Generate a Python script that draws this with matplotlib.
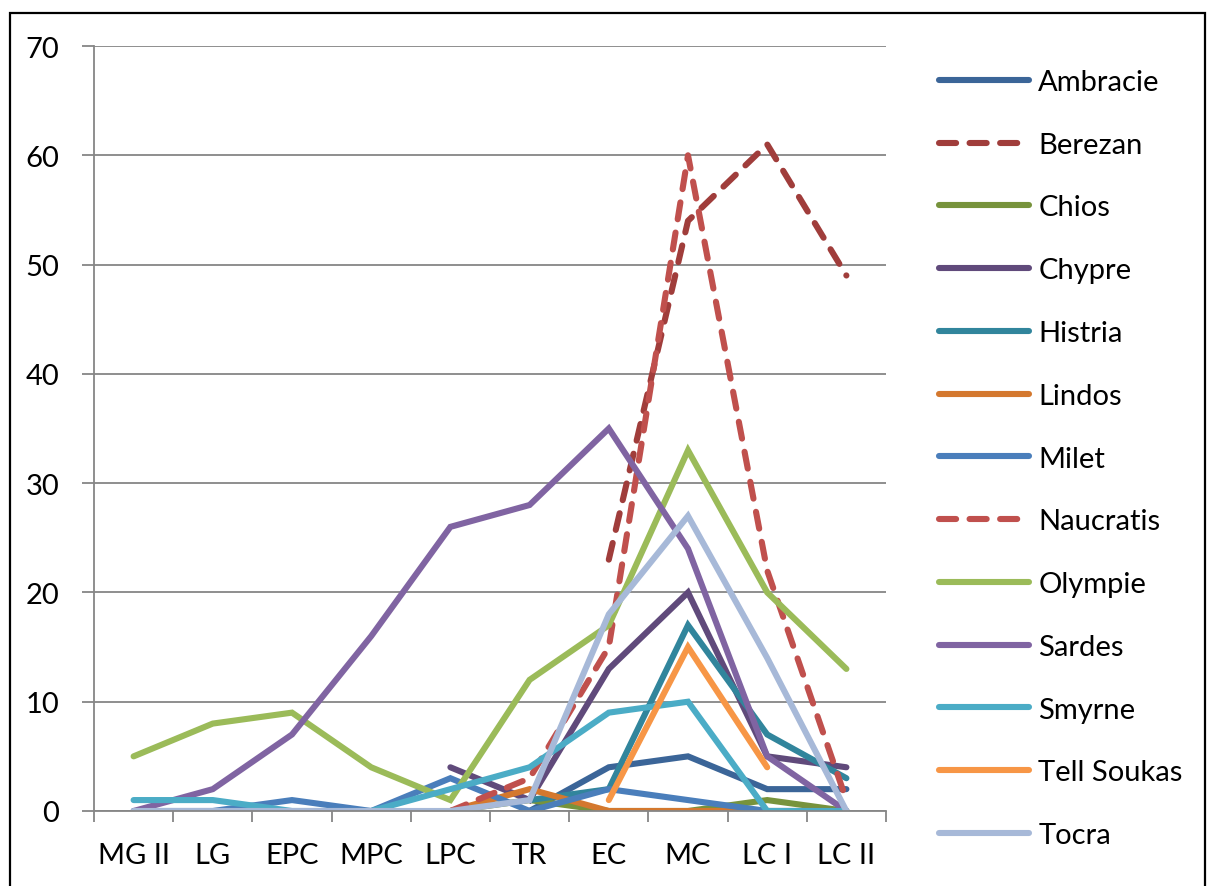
import matplotlib
matplotlib.use("Agg")
import matplotlib.pyplot as plt
from matplotlib.patches import Rectangle
import numpy as np

# periods on the x axis
periods = ["MG II", "LG", "EPC", "MPC", "LPC", "TR", "EC", "MC", "LC I", "LC II"]

N = None
ambracie = [N, N, N, N, N, 0, 4, 5, 2, 2]
berezan = [N, N, N, N, N, N, 23, 54, 61, 49]
chios = [N, N, N, N, 0, 1, 0, 0, 1, 0]
chypre = [N, N, N, N, 4, 1, 13, 20, 5, 4]
histria = [N, N, N, N, N, 1, 2, 17, 7, 3]
lindos = [N, N, N, N, 0, 2, 0, 0, 0, 0]
milet = [0, 0, 1, 0, 3, 0, 2, 1, 0, 0]
naucratis = [N, N, N, N, 0, 3, 15, 60, 22, 1]
olympie = [5, 8, 9, 4, 1, 12, 17, 33, 20, 13]
sardes = [0, 2, 7, 16, 26, 28, 35, 24, 5, 0]
smyrne = [1, 1, 0, 0, 2, 4, 9, 10, 0, 0]
tell_soukas = [N, N, N, N, N, N, 1, 15, 4, N]
tocra = [0, 0, 0, 0, 0, 1, 18, 27, 14, 0]

names = ["Ambracie", "Berezan", "Chios", "Chypre", "Histria", "Lindos", "Milet",
         "Naucratis", "Olympie", "Sardes", "Smyrne", "Tell Soukas", "Tocra"]
series = [ambracie, berezan, chios, chypre, histria, lindos, milet,
          naucratis, olympie, sardes, smyrne, tell_soukas, tocra]
colors = ["#3B6598", "#A03D3B", "#77933C", "#604A7B", "#31859C", "#D4782E", "#4A7EBB",
          "#C0504D", "#9BBB59", "#8064A2", "#4BACC6", "#F79646", "#A7B9D8"]
dashed = ["Berezan", "Naucratis"]

plt.rcParams['font.family'] = ['Lato', 'DejaVu Sans']

fig = plt.figure(figsize=(12.08, 8.87), dpi=100)
ax = fig.add_axes([94/1208, 1-812/887, (886-94)/1208, (812-47)/887])

x = np.arange(len(periods))
for name, vals, c in zip(names, series, colors):
    y = np.array([np.nan if v is None else v for v in vals], dtype=float)
    if name in dashed:
        ax.plot(x, y, color=c, lw=4.4, label=name, dashes=(2.8, 2.2),
                dash_capstyle='round', solid_capstyle='round')
    else:
        ax.plot(x, y, color=c, lw=4.4, label=name, solid_capstyle='round',
                solid_joinstyle='miter')

ax.set_xlim(-0.5, len(periods) - 0.5)
ax.set_ylim(0, 70)
ax.set_yticks(range(0, 71, 10))
ax.set_xticks(x)
ax.set_xticklabels(periods)
ax.set_xticks(np.arange(-0.5, len(periods)), minor=True)
ax.tick_params(axis='x', which='major', length=0, pad=22, labelsize=21)
ax.tick_params(axis='x', which='minor', length=8, width=1.3, color='#868686')
ax.tick_params(axis='y', length=9, width=1.3, color='#868686', pad=16, labelsize=21)
ax.yaxis.grid(True, color='#868686', lw=1.3)
ax.set_axisbelow(True)
for s in ['top', 'right']:
    ax.spines[s].set_visible(False)
for s in ['left', 'bottom']:
    ax.spines[s].set_color('#868686')
    ax.spines[s].set_linewidth(1.3)

ax.legend(loc='upper left', bbox_to_anchor=(939/1208, 1-70/887),
          bbox_transform=fig.transFigure, frameon=False, fontsize=21,
          handlelength=3.1, handletextpad=0.3, labelspacing=1.26,
          borderpad=0, borderaxespad=0)

fig.patches.append(Rectangle((10/1208, -0.1), (1205-10)/1208, 1.1-14/887,
                             transform=fig.transFigure, fill=False,
                             edgecolor='black', lw=1.6, clip_on=False))

fig.savefig("out.png", dpi=100)
